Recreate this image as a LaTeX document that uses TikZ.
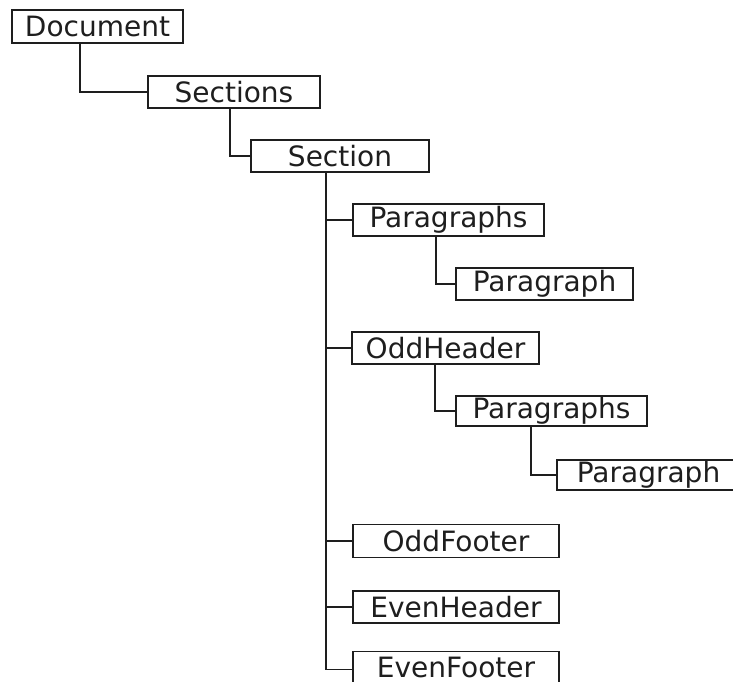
\documentclass[tikz,border=0pt]{standalone}
\usepackage{fontspec}
\setmainfont{DejaVu Sans}
\definecolor{ink}{HTML}{1E1E1E}
\begin{document}
\begin{tikzpicture}[x=1pt,y=-1pt,
  box/.style={draw=ink,line width=1.2pt,rectangle,inner sep=0pt,anchor=center,
    text=ink,font=\fontsize{28}{30}\selectfont},
  link/.style={draw=ink,line width=1.2pt}]
\useasboundingbox (0,0) rectangle (733,682);
\clip (0,0) rectangle (733,682);
\node[box,minimum width=171pt,minimum height=33pt] (Document) at (97.5,26.5) {Document};
\node[box,minimum width=172pt,minimum height=32pt] (Sections) at (234,92) {Sections};
\node[box,minimum width=178pt,minimum height=32pt] (Section) at (340,156) {Section};
\node[box,minimum width=191pt,minimum height=32pt] (Paragraphs1) at (448.5,220) {Paragraphs};
\node[box,minimum width=177pt,minimum height=32pt] (Paragraph1) at (544.5,284) {Paragraph};
\node[box,minimum width=187pt,minimum height=32pt] (OddHeader) at (445.5,348) {OddHeader};
\node[box,minimum width=191pt,minimum height=30pt] (Paragraphs2) at (551.5,411) {Paragraphs};
\node[box,minimum width=183pt,minimum height=30pt] (Paragraph2) at (648.5,475) {Paragraph};
\node[box,minimum width=206pt,minimum height=33pt] (OddFooter) at (456,541) {OddFooter};
\node[box,minimum width=206pt,minimum height=32pt] (EvenHeader) at (456,607) {EvenHeader};
\node[box,minimum width=206pt,minimum height=36pt] (EvenFooter) at (456,669.5) {\raisebox{3.5pt}{EvenFooter}};
\draw[link] ([xshift=-17.5pt]Document.south) |- (Sections.west);
\draw[link] ([xshift=-4pt]Sections.south) |- (Section.west);
\draw[link] ([xshift=-14pt]Section.south) |- (Paragraphs1.west);
\draw[link] ([xshift=-14pt]Section.south) |- (OddHeader.west);
\draw[link] ([xshift=-14pt]Section.south) |- (OddFooter.west);
\draw[link] ([xshift=-14pt]Section.south) |- (EvenHeader.west);
\draw[link] ([xshift=-14pt]Section.south) |- (EvenFooter.west);
\draw[link] ([xshift=-12.5pt]Paragraphs1.south) |- (Paragraph1.west);
\draw[link] ([xshift=-10.5pt]OddHeader.south) |- (Paragraphs2.west);
\draw[link] ([xshift=-20.5pt]Paragraphs2.south) |- (Paragraph2.west);
\end{tikzpicture}
\end{document}
